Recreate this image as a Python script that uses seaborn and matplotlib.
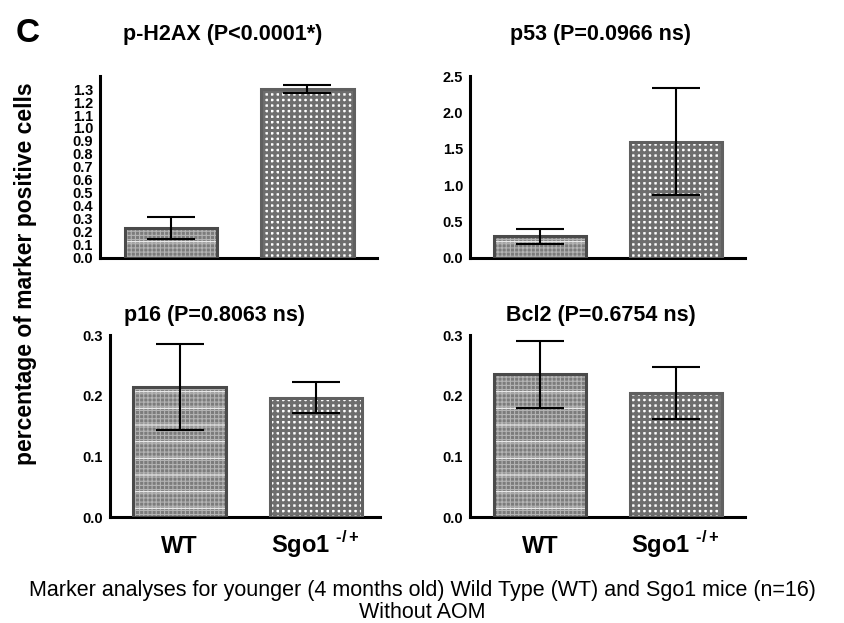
import matplotlib
matplotlib.use("Agg")
import matplotlib.pyplot as plt
import numpy as np
import pandas as pd
import seaborn as sns
from matplotlib.patches import Rectangle

groups = ["WT", "Sgo1"]
group_labels = ["WT", r"Sgo1 $^{\mathbf{‐/+}}$"]
markers = ["p-H2AX", "p53", "p16", "Bcl2"]
titles = ["p-H2AX (P<0.0001*)", "p53 (P=0.0966 ns)",
          "p16 (P=0.8063 ns)", "Bcl2 (P=0.6754 ns)"]
means = {
    "p-H2AX": [0.23, 1.30],
    "p53": [0.30, 1.60],
    "p16": [0.215, 0.197],
    "Bcl2": [0.235, 0.205],
}
errs = {
    "p-H2AX": [0.085, 0.03],
    "p53": [0.105, 0.73],
    "p16": [0.071, 0.025],
    "Bcl2": [0.056, 0.043],
}
ylims = {"p-H2AX": 1.4, "p53": 2.5, "p16": 0.3, "Bcl2": 0.3}
ysteps = {"p-H2AX": 0.1, "p53": 0.5, "p16": 0.1, "Bcl2": 0.1}

df = pd.DataFrame([
    {"marker": m, "group": g, "mean": means[m][i], "sem": errs[m][i]}
    for m in markers for i, g in enumerate(groups)
])

sns.set_style("white")
plt.rcParams["font.family"] = ["Liberation Sans", "DejaVu Sans"]
plt.rcParams["mathtext.fontset"] = "custom"
plt.rcParams["mathtext.bf"] = "Liberation Sans:bold"
plt.rcParams["mathtext.rm"] = "Liberation Sans"
plt.rcParams["text.color"] = "black"
plt.rcParams["xtick.color"] = "black"
plt.rcParams["ytick.color"] = "black"

fig = plt.figure(figsize=(8.45, 6.23), dpi=100)
boxes = [
    [0.1183, 0.5859, 0.3278, 0.2921],
    [0.5562, 0.5859, 0.3254, 0.2921],
    [0.1302, 0.1701, 0.3195, 0.2921],
    [0.5562, 0.1701, 0.3254, 0.2921],
]
xlims = [(-0.52, 1.51), (-0.52, 1.51), (-0.51, 1.47), (-0.52, 1.51)]
title_pos = [(0.263, 0.944), (0.711, 0.944), (0.254, 0.494), (0.711, 0.494)]

styles = {
    "WT": dict(face="#7c7c7c", hatch="++++", hc="#b4b4b4", edge="#4a4a4a", hlw=0.8),
    "Sgo1": dict(face="#ffffff", hatch="+++", hc="#6e6e6e", edge="#606060", hlw=2.2),
}

for k, m in enumerate(markers):
    ax = fig.add_axes(boxes[k])
    sub = df[df["marker"] == m]
    sns.barplot(data=sub, x="group", y="mean", order=groups, ax=ax,
                width=0.68, errorbar=None, color="white")
    for p, g in zip(list(ax.patches), groups):
        st = styles[g]
        if hasattr(p, "set_hatch_linewidth"):
            p.set_hatch_linewidth(st["hlw"])
        p.set_facecolor(st["face"])
        p.set_edgecolor(st["hc"])
        p.set_hatch(st["hatch"])
        p.set_linewidth(0)
        if g == "WT":
            # faint white horizontal stripes over the fine texture
            stripe = Rectangle(p.get_xy(), p.get_width(), p.get_height(),
                               fill=False, hatch="-", edgecolor="#e8e8e8",
                               lw=0, zorder=2.5)
            if hasattr(stripe, "set_hatch_linewidth"):
                stripe.set_hatch_linewidth(1.0)
            ax.add_patch(stripe)
        ax.add_patch(Rectangle(p.get_xy(), p.get_width(), p.get_height(),
                               fill=False, edgecolor=st["edge"], lw=2.2, zorder=3))
    ax.errorbar(np.arange(len(groups)), sub["mean"], yerr=sub["sem"],
                fmt="none", ecolor="black", elinewidth=1.5, capsize=17,
                capthick=1.5, zorder=4)
    ax.set_xlim(*xlims[k])
    ax.set_ylim(0, ylims[m])
    step = ysteps[m]
    ticks = np.arange(0, ylims[m] + 1e-9, step)
    if m == "p-H2AX":
        ticks = ticks[ticks <= 1.3 + 1e-9]
    ax.set_yticks(ticks)
    ax.set_yticklabels([f"{t:.1f}" for t in ticks], fontweight="bold",
                       fontsize=10.5)
    ax.set_xlabel("")
    ax.set_ylabel("")
    if k >= 2:
        ax.set_xticks([0, 1])
        ax.set_xticklabels(group_labels, fontsize=17, fontweight="bold")
        for lab in ax.get_xticklabels():
            lab.set_va("baseline")
        ax.tick_params(axis="x", length=0, pad=26)
    else:
        ax.set_xticks([])
    ax.tick_params(axis="y", direction="out", length=4, width=1.5, pad=1)
    for s in ["top", "right"]:
        ax.spines[s].set_visible(False)
    for s in ["left", "bottom"]:
        ax.spines[s].set_linewidth(2.2)
        ax.spines[s].set_color("black")
    fig.text(*title_pos[k], titles[k], fontsize=15.5, fontweight="bold",
             ha="center", va="center")

fig.text(0.018, 0.947, "C", fontsize=24, fontweight="bold", va="center")
fig.text(0.03, 0.56, "percentage of marker positive cells", rotation=90,
         fontsize=16.5, fontweight="bold", ha="center", va="center")
fig.text(0.5, 0.035,
         "Marker analyses for younger (4 months old) Wild Type (WT) and Sgo1 mice (n=16)\nWithout AOM",
         ha="center", va="center", fontsize=15.5, linespacing=1.05)

fig.savefig("out.png", dpi=100)
